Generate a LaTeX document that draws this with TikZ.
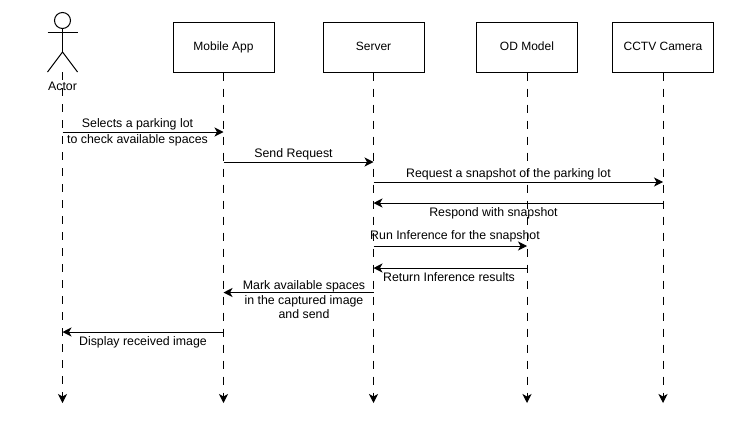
\documentclass[tikz,border=0pt]{standalone}
\usepackage{fontspec}
\setmainfont{Liberation Sans}
\usetikzlibrary{arrows.meta}
\tikzset{
 boxn/.style={draw,line width=1pt,minimum width=101pt,minimum height=50pt,inner sep=0pt,text height=8.5pt,text depth=2.5pt,font=\fontsize{12}{14}\selectfont},
 life/.style={line width=1pt,dash pattern=on 8pt off 8pt,-{Stealth[length=9pt,width=9pt,inset=2.5pt]}},
 msg/.style={line width=1pt,-{Stealth[length=9pt,width=9pt,inset=2.5pt]}},
 lab/.style={font=\fontsize{12.35}{14.5}\selectfont,inner sep=0pt,align=center},
 actorline/.style={line width=1pt}
}
\begin{document}
\begin{tikzpicture}[x=1pt,y=-1pt]
\useasboundingbox (0,0) rectangle (738,423);
\node[boxn] (app) at (223.5,47) {Mobile App};
\node[boxn] (srv) at (373.5,47) {Server};
\node[boxn] (od) at (527,47) {OD Model};
\node[boxn] (cam) at (663,47) {CCTV Camera};
\node[lab] (actor) at (62.5,86) {Actor};
\node[draw,circle,line width=1pt,minimum size=16pt,inner sep=0pt] (head) at (62.5,20.5) {};
\coordinate (hip) at (62.5,52);
\coordinate (armL) at (47.5,32.5);
\coordinate (armR) at (77.5,32.5);
\coordinate (footL) at (47.5,72);
\coordinate (footR) at (77.5,72);
\draw[actorline] (head.south) -- (hip);
\draw[actorline] (armL) -- (armR);
\draw[actorline] (footL) -- (hip) -- (footR);
\coordinate (ea) at (62.5,403);
\coordinate (eb) at (223.5,403);
\coordinate (ec) at (373.5,403);
\coordinate (ed) at (527,403);
\coordinate (ee) at (663,403);
\coordinate (sa) at (62.5,72);
\draw[life] (sa) -- (ea);
\draw[life] (app.south) -- (eb);
\draw[life] (srv.south) -- (ec);
\draw[life] (od.south) -- (ed);
\draw[life] (cam.south) -- (ee);
\foreach \n/\x/\y in {a1/62.5/132,b1/223.5/132,b2/223.5/162,c2/373.5/162,c3/373.5/182,e3/663/182,e4/663/203,c4/373.5/203,c5/373.5/246,d5/527/246,d6/527/268,c6/373.5/268,c7/373.5/292.5,b7/223.5/292.5,b8/223.5/332,a8/62.5/332}{\coordinate (\n) at (\x,\y);}
\draw[msg] (a1) -- (b1);
\draw[msg] (b2) -- (c2);
\draw[msg] (c3) -- (e3);
\draw[msg] (e4) -- (c4);
\draw[msg] (c5) -- (d5);
\draw[msg] (d6) -- (c6);
\draw[msg] (c7) -- (b7);
\draw[msg] (b8) -- (a8);
\node[lab] (l1) at (137.5,132.5) {Selects a parking lot\\[1pt]to check available spaces};
\node[lab] (l2) at (293.5,154) {Send Request};
\node[lab] (l3) at (508.5,174) {Request a snapshot of the parking lot};
\node[lab] (l4) at (493.5,213.5) {Respond with snapshot};
\node[lab] (l5) at (455,236.5) {Run Inference for the snapshot};
\node[lab] (l6) at (449,277.5) {Return Inference results};
\node[lab] (l7) at (304,300) {Mark available spaces\\in the captured image\\and send};
\node[lab] (l8) at (143,342.5) {Display received image};
\end{tikzpicture}
\end{document}
